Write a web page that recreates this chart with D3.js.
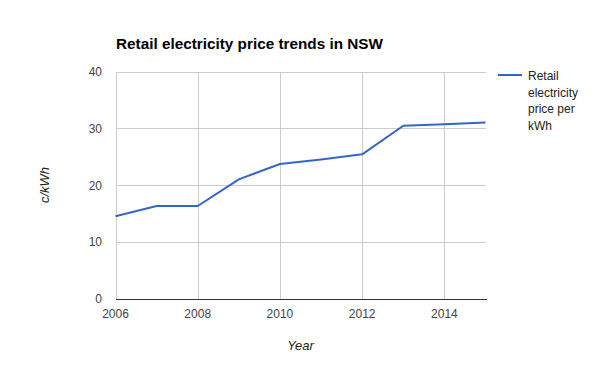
<!DOCTYPE html>
<meta charset="utf-8">
<head>
    <script src="https://d3js.org/d3.v7.min.js"></script>
    <style>
        body { margin: 0; background: #fff; }
        text { font-family: Arial, "Liberation Sans", sans-serif; }
        .grid line { stroke: #ccc; stroke-width: 1px; shape-rendering: crispEdges; }
        .tick-label { font-size: 12px; fill: #444; }
    </style>
    <title>Retail electricity price trends in NSW</title>
</head>
<body>
<svg id="chart" width="600" height="371"></svg>
<script>

    var years = [2006, 2007, 2008, 2009, 2010, 2011, 2012, 2013, 2014, 2015];
    var prices = [14.5, 16.3, 16.3, 21.0, 23.7, 24.5, 25.4, 30.45, 30.7, 31.0];
    var xTicks = [2006, 2008, 2010, 2012, 2014];
    var yTicks = [0, 10, 20, 30, 40];
    var legendLines = ["Retail", "electricity", "price per", "kWh"];

    var svg = d3.select("#chart"),
        plotLeft = 115.5, plotRight = 485.5, plotTop = 71.5, plotBottom = 298.5;

    var x = d3.scaleLinear().domain([2006, 2015]).range([plotLeft, plotRight]);
    var y = d3.scaleLinear().domain([0, 40]).range([plotBottom, plotTop]);

    // gridlines
    var grid = svg.append("g").attr("class", "grid");
    grid.selectAll(".h").data(yTicks).enter().append("line")
        .attr("x1", plotLeft).attr("x2", plotRight)
        .attr("y1", function (d) { return Math.round(y(d)) + 0.5; })
        .attr("y2", function (d) { return Math.round(y(d)) + 0.5; });
    grid.selectAll(".v").data(xTicks).enter().append("line")
        .attr("x1", function (d) { return Math.round(x(d)) + 0.5; })
        .attr("x2", function (d) { return Math.round(x(d)) + 0.5; })
        .attr("y1", plotTop).attr("y2", plotBottom);

    // baseline
    svg.append("line")
        .attr("x1", plotLeft).attr("x2", plotRight + 1)
        .attr("y1", Math.round(y(0)) + 0.5).attr("y2", Math.round(y(0)) + 0.5)
        .attr("stroke", "#333").attr("shape-rendering", "crispEdges");

    // tick labels
    svg.selectAll(".ylab").data(yTicks).enter().append("text")
        .attr("class", "tick-label")
        .attr("x", 102).attr("y", function (d) { return y(d) + 4.5; })
        .attr("text-anchor", "end")
        .text(function (d) { return d; });

    svg.selectAll(".xlab").data(xTicks).enter().append("text")
        .attr("class", "tick-label")
        .attr("x", function (d) { return x(d); }).attr("y", 318)
        .attr("text-anchor", "middle")
        .text(function (d) { return d; });

    // line
    var line = d3.line()
        .x(function (d, i) { return x(years[i]); })
        .y(function (d) { return y(d); });

    svg.append("path")
        .datum(prices)
        .attr("d", line)
        .attr("fill", "none")
        .attr("stroke", "#3366cc")
        .attr("stroke-width", 2)
        .attr("stroke-linejoin", "round");

    // title and axis titles
    svg.append("text")
        .attr("x", 116).attr("y", 49)
        .style("font-size", "15.3px").style("font-weight", "bold").attr("fill", "#000")
        .text("Retail electricity price trends in NSW");

    svg.append("text")
        .attr("x", (plotLeft + plotRight) / 2).attr("y", 350)
        .attr("text-anchor", "middle")
        .style("font-size", "13px").style("font-style", "italic").attr("fill", "#222")
        .text("Year");

    svg.append("text")
        .attr("transform", "translate(49," + ((plotTop + plotBottom) / 2) + ") rotate(-90)")
        .attr("text-anchor", "middle")
        .style("font-size", "13px").style("font-style", "italic").attr("fill", "#222")
        .text("c/kWh");

    // legend
    svg.append("line")
        .attr("x1", 498).attr("x2", 522).attr("y1", 75).attr("y2", 75)
        .attr("stroke", "#3366cc").attr("stroke-width", 2);

    svg.selectAll(".leg").data(legendLines).enter().append("text")
        .attr("x", 528).attr("y", function (d, i) { return 80 + i * 16.7; })
        .style("font-size", "12px").attr("fill", "#222")
        .text(function (d) { return d; });

</script>
</body>
